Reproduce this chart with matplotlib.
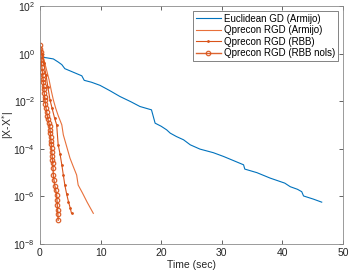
import numpy as np
import matplotlib
matplotlib.use("Agg")
import matplotlib.pyplot as plt
from matplotlib.ticker import LogLocator, FixedLocator

plt.rcParams['font.family'] = ['Liberation Sans', 'DejaVu Sans']

# Euclidean GD (Armijo): time (sec), log10 |X-X*|
gd_t = [0, 1.0, 2.2, 3.0, 3.6, 4.1, 5.5, 6.9, 7.3, 8.5, 9.9, 11.5, 13.2,
        15.0, 16.5, 18.4, 19.0, 20.0, 20.9, 21.5, 22.5, 23.7, 24.8, 26.4,
        28.6, 30.3, 32.0, 33.6, 33.8, 35.8, 38.0, 40.4, 41.3, 42.5, 43.2,
        43.5, 45.1, 46.5]
gd_e = [-0.14, -0.17, -0.22, -0.35, -0.46, -0.63, -0.78, -0.93, -1.12, -1.2,
        -1.33, -1.55, -1.80, -2.02, -2.22, -2.36, -2.92, -3.05, -3.20, -3.34,
        -3.48, -3.62, -3.83, -4.01, -4.16, -4.32, -4.50, -4.67, -4.85, -5.00,
        -5.23, -5.44, -5.59, -5.70, -5.80, -5.98, -6.11, -6.24]

# Qprecon RGD (Armijo)
arm_t = [0, 0.3, 0.7, 1.1, 1.5, 1.9, 2.2, 2.6, 3.0, 3.6, 3.85, 4.4, 4.95,
         5.5, 6.05, 6.3, 7.0, 7.8, 8.8]
arm_e = [0.35, 0.1, -0.3, -0.7, -1.1, -1.6, -1.94, -2.3, -2.6, -2.99, -3.41,
         -3.9, -4.39, -4.75, -5.1, -5.52, -5.85, -6.25, -6.71]

# Qprecon RGD (RBB)
rbb_t = [0, 0.3, 0.6, 1.0, 1.3, 1.65, 2.0, 2.4, 2.75, 3.0, 3.3, 3.6, 3.85,
         4.1, 4.4, 4.7, 5.0, 5.2]
rbb_e = [0.3, 0.0, -0.4, -0.9, -1.4, -1.94, -2.3, -2.7, -2.99, -3.83, -4.2,
         -4.67, -5.1, -5.52, -5.9, -6.22, -6.5, -6.71]

# Qprecon RGD (RBB nols)
nols_t = [0, 0.05, 0.1, 0.15, 0.2, 0.25, 0.3, 0.4, 0.45, 0.5, 0.55, 0.6,
          0.65, 0.7, 0.75, 0.8, 0.9, 1.0, 1.1, 1.2, 1.3, 1.45, 1.6, 1.65, 1.7,
          1.75, 1.8, 1.85, 1.9, 1.95, 2.0, 2.05, 2.1, 2.15, 2.2, 2.3, 2.45,
          2.6, 2.75, 2.8, 2.85, 2.9, 2.95, 3.0]
nols_e = [0.35, 0.2, 0.05, -0.1, -0.25, -0.4, -0.55, -0.75, -0.9, -1.05,
          -1.2, -1.35, -1.5, -1.65, -1.8, -1.94, -2.1, -2.3, -2.45, -2.6,
          -2.75, -2.9, -3.05, -3.2, -3.35, -3.5, -3.65, -3.8, -3.97, -4.15,
          -4.3, -4.45, -4.6, -4.8, -5.1, -5.3, -5.55, -5.75, -5.94, -6.15,
          -6.35, -6.55, -6.75, -7.0]

blue = '#0072BD'
orange = '#D95319'

fig = plt.figure(figsize=(3.49, 2.77), dpi=100)
ax = fig.add_axes([0.1146, 0.119, 0.868, 0.859])

ax.semilogy(gd_t, 10 ** np.array(gd_e), color=blue, lw=0.8,
            label='Euclidean GD (Armijo)')
ax.semilogy(arm_t, 10 ** np.array(arm_e), color='#E8703A', lw=0.8,
            label='Qprecon RGD (Armijo)')
ax.semilogy(rbb_t, 10 ** np.array(rbb_e), color=orange, lw=0.8,
            marker='.', ms=2, label='Qprecon RGD (RBB)')
ax.semilogy(nols_t, 10 ** np.array(nols_e), color=orange, lw=1.0,
            marker='o', ms=3.2, mfc='none', mew=0.9, alpha=0.9,
            label='Qprecon RGD (RBB nols)')

ax.set_xlim(0, 50)
ax.set_ylim(1e-8, 1e2)
ax.set_xticks([0, 10, 20, 30, 40, 50])
ax.yaxis.set_major_locator(FixedLocator([1e-8, 1e-6, 1e-4, 1e-2, 1e0, 1e2]))
ax.yaxis.set_minor_locator(LogLocator(base=10, subs=np.arange(2, 10), numticks=20))
ax.minorticks_on()
ax.xaxis.set_minor_locator(FixedLocator([]))

ax.tick_params(which='both', direction='in', top=True, right=True,
               colors='#262626', labelsize=7.5, width=0.5)
ax.tick_params(which='major', length=3)
ax.tick_params(which='minor', length=1.5)
ax.tick_params(axis='x', pad=3)
for s in ax.spines.values():
    s.set_color('#8a8a8a')
    s.set_linewidth(0.6)

ax.set_xlabel('Time (sec)', fontsize=7.5, color='#262626', labelpad=1)
fig.text(0.024, 0.55, '|X-X$^{*}$|', fontsize=7.5, color='#262626',
         rotation=90, ha='center', va='center')

leg = ax.legend(loc='upper right', fontsize=7, frameon=True, fancybox=False,
                handlelength=2.6, handletextpad=0.3, borderpad=0.3,
                labelspacing=0.15, borderaxespad=0.5)
leg.get_frame().set_edgecolor('#262626')
leg.get_frame().set_linewidth(0.5)

fig.savefig('out.png', dpi=100)
